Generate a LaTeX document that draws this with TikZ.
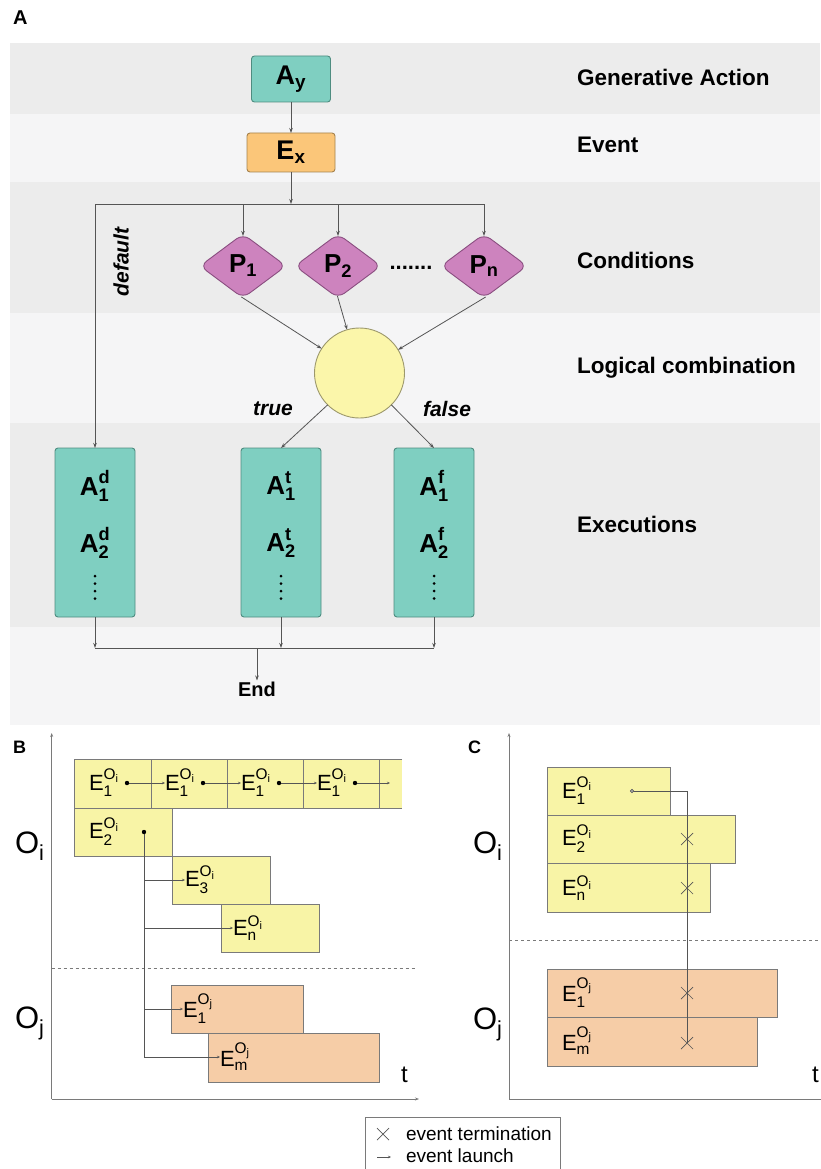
\documentclass[tikz,border=0pt]{standalone}
\usepackage{amsmath}
\usepackage{fontspec}
\setmainfont{Liberation Sans}
\usetikzlibrary{arrows.meta,shapes.geometric,calc}
\definecolor{bandD}{HTML}{ECECEC}
\definecolor{bandL}{HTML}{F5F5F6}
\definecolor{tealF}{HTML}{7FCFC1}
\definecolor{tealD}{HTML}{4E8C80}
\definecolor{oranF}{HTML}{FBC679}
\definecolor{oranD}{HTML}{A5824E}
\definecolor{purpF}{HTML}{CD83BE}
\definecolor{purpD}{HTML}{8A4E80}
\definecolor{circF}{HTML}{FBF6AA}
\definecolor{circD}{HTML}{9C986C}
\definecolor{ylwF}{HTML}{F8F4A6}
\definecolor{peachF}{HTML}{F6CDA7}
\definecolor{boxD}{HTML}{7A7A7A}
\definecolor{lineC}{HTML}{555555}
\newcommand{\fsz}[1]{\fontsize{#1}{#1}\selectfont}
\newcommand{\Eo}[2]{$\text{E}^{\text{O}_{\text{#1}}}_{\text{#2}}$}
\newcommand{\Ax}[2]{$\text{A}^{\text{#1}}_{\text{#2}}$}
\tikzset{
  every node/.style={inner sep=0pt, outer sep=0pt},
  ln/.style={draw=lineC, line width=0.8pt},
  arr/.style={ln, -{Stealth[length=5pt,width=3.5pt]}},
  larr/.style={draw=lineC, line width=0.7pt, -{Stealth[length=3pt,width=2.5pt]}},
  axisarr/.style={draw=boxD, line width=0.9pt, -{Stealth[length=4pt,width=3pt]}},
  dsh/.style={draw=boxD, line width=0.8pt, dash pattern=on 3pt off 3pt},
  tbox/.style={draw=tealD, fill=tealF, line width=0.9pt, rounded corners=3pt, font=\fsz{27}\bfseries},
  obox/.style={draw=oranD, fill=oranF, line width=0.9pt, rounded corners=3pt, font=\fsz{27}\bfseries},
  cond/.style={diamond, draw=purpD, fill=purpF, line width=0.9pt, rounded corners=8pt, minimum width=86, minimum height=64, font=\fsz{26}\bfseries},
  execbox/.style={draw=tealD, fill=tealF, line width=0.9pt, rounded corners=3pt, minimum width=80, minimum height=169},
  rowlab/.style={font=\fsz{22.5}\bfseries, anchor=base west},
  bi/.style={font=\fsz{21}\bfseries\itshape},
  ybox/.style={draw=boxD, fill=ylwF, line width=0.8pt, anchor=north west},
  pbox/.style={draw=boxD, fill=peachF, line width=0.8pt, anchor=north west},
  etxt/.style={font=\fsz{22}, anchor=west},
  olab/.style={font=\fsz{31}, anchor=base west},
  xmark/.style={draw=lineC, line width=0.7pt},
}
\begin{document}
\begin{tikzpicture}[x=1pt, y=-1pt]
\useasboundingbox (0,0) rectangle (820,1169);
\fill[white] (0,0) rectangle (820,1169);
% ---------------- Panel A ----------------
\fill[bandD] (10,43) rectangle (820,114);
\fill[bandL] (10,114) rectangle (820,182);
\fill[bandD] (10,182) rectangle (820,313);
\fill[bandL] (10,313) rectangle (820,423);
\fill[bandD] (10,423) rectangle (820,627);
\fill[bandL] (10,627) rectangle (820,725);
\node[font=\fsz{20}\bfseries, anchor=base west] (labA) at (13,25) {A};

\node[rowlab] (rl1) at (577,86) {Generative Action};
\node[rowlab] (rl2) at (577,153) {Event};
\node[rowlab] (rl3) at (577,268) {Conditions};
\node[rowlab] (rl4) at (577,373) {Logical combination};
\node[rowlab] (rl5) at (577,532) {Executions};

\node[tbox, minimum width=79, minimum height=46] (Ay) at (291,79) {$\text{A}_{\text{y}}$};
\node[obox, minimum width=88, minimum height=39] (Ex) at (291,152.5) {$\text{E}_{\text{x}}$};
\draw[arr] (Ay.south) -- (Ex.north);
\coordinate (jn) at (291,204);
\coordinate (jL) at (95,204);
\coordinate (jR) at (484,204);
\draw[arr] (Ex.south) -- (jn);
\draw[ln] (jL) -- (jR);

\node[cond] (P1) at (243,266) {$\text{P}_{\text{1}}$};
\node[cond] (P2) at (338,266) {$\text{P}_{\text{2}}$};
\node[cond] (Pn) at (484,266) {$\text{P}_{\text{n}}$};
\node[font=\fsz{22}\bfseries, anchor=base] (pdots) at (411,269) {.......};
\draw[arr, shorten >=-2pt] (jL -| P1) -- (P1.north);
\draw[arr, shorten >=-2pt] (jL -| P2) -- (P2.north);
\draw[arr, shorten >=-2pt] (jR) -- (Pn.north);

\node[circle, draw=circD, fill=circF, line width=0.9pt, minimum size=90] (LC) at (359.5,373) {};
\draw[arr, shorten <=-2pt] (P1.south) -- (LC);
\draw[arr, shorten <=-2pt] (P2.south) -- (LC);
\draw[arr, shorten <=-2pt] (Pn.south) -- (LC);

\node[rotate=90, bi] (dflt) at (121,262) {default};
\node[bi] (tru) at (273,409) {true};
\node[bi] (fls) at (447,409) {false};

\node[execbox] (Ad) at (95,532.5) {};
\node[execbox] (At) at (281,532.5) {};
\node[execbox] (Af) at (434,532.5) {};
\draw[arr] (jL) -- (Ad.north);
\draw[arr] (LC.south west) -- (At.north);
\draw[arr] (LC.south east) -- (Af.north);

\foreach \nm/\ssup/\xx in {d/d/95, t/t/281, f/f/434}{
  \node[font=\fsz{26}\bfseries] (A\nm1) at (\xx,486) {\Ax{\ssup}{1}};
  \node[font=\fsz{26}\bfseries] (A\nm2) at (\xx,543) {\Ax{\ssup}{2}};
  \foreach \yy in {576,583.5,591,598.5} \fill[black] (\xx,\yy) circle (1.5);
}

\coordinate (bL) at (95,648);
\coordinate (bR) at (434,648);
\draw[arr] (Ad.south) -- (bL);
\draw[arr] (At.south) -- (At.south |- bL);
\draw[arr] (Af.south) -- (bR);
\draw[ln] (bL) -- (bR);
\node[font=\fsz{20}\bfseries, anchor=base] (End) at (257,696) {End};
\draw[arr, shorten >=1pt] (bL -| End) -- (End.north);

% ---------------- Panel B ----------------
\node[font=\fsz{18}\bfseries, anchor=base west] (labB) at (13,753) {B};
\coordinate (B0) at (51.7,1099);
\draw[axisarr] (B0) -- (51.7,733);
\draw[axisarr] (B0) -- (419,1099);
\draw[dsh] (51.7,968) -- (417,968);

\node[ybox, minimum width=77, minimum height=49] (r1a) at (74,759) {};
\node[ybox, minimum width=76, minimum height=49] (r1b) at (151,759) {};
\node[ybox, minimum width=76, minimum height=49] (r1c) at (227,759) {};
\node[ybox, minimum width=76, minimum height=49] (r1d) at (303,759) {};
\fill[ylwF] (379,759) rectangle (402,808);
\draw[draw=boxD, line width=0.8pt] (402,759) -- (379,759) -- (379,808) -- (402,808);

\node[ybox, minimum width=98, minimum height=48] (r2) at (74,808) {};
\node[ybox, minimum width=98, minimum height=48] (r3) at (172,856) {};
\node[ybox, minimum width=98, minimum height=48] (r4) at (221,904) {};
\node[pbox, minimum width=132, minimum height=48] (r5) at (171,985) {};
\node[pbox, minimum width=171, minimum height=49] (r6) at (208,1033) {};

\node[etxt] (t1a) at (89,783) {\Eo{i}{1}};
\node[etxt] (t1b) at (165,783) {\Eo{i}{1}};
\node[etxt] (t1c) at (241,783) {\Eo{i}{1}};
\node[etxt] (t1d) at (317,783) {\Eo{i}{1}};
\coordinate (d1a) at (127,783);
\coordinate (d1b) at (203,783);
\coordinate (d1c) at (279,783);
\coordinate (d1d) at (355,783);
\coordinate (e1) at (390,783);
\draw[larr] (d1a) -- (t1b.west);
\draw[larr] (d1b) -- (t1c.west);
\draw[larr] (d1c) -- (t1d.west);
\draw[larr] (d1d) -- (e1);
\foreach \d in {d1a,d1b,d1c,d1d} \fill[black] (\d) circle (2.2);

\node[etxt] (t2) at (89,832) {\Eo{i}{2}};
\node[etxt] (t3) at (185,880) {\Eo{i}{3}};
\node[etxt] (t4) at (233,928) {\Eo{i}{n}};
\node[etxt] (t5) at (183,1009) {\Eo{j}{1}};
\node[etxt] (t6) at (220,1057) {\Eo{j}{m}};
\coordinate (d2) at (144,832);
\draw[ln, line width=0.7pt] (d2) -- (d2 |- t6.west);
\fill[black] (d2) circle (2.2);
\draw[larr] (d2 |- t3.west) -- (t3.west);
\draw[larr] (d2 |- t4.west) -- (t4.west);
\draw[larr] (d2 |- t5.west) -- (t5.west);
\draw[larr] (d2 |- t6.west) -- (t6.west);

\node[olab] (BOi) at (15,853) {$\text{O}_{\text{i}}$};
\node[olab] (BOj) at (15,1028) {$\text{O}_{\text{j}}$};
\node[font=\fsz{24}, anchor=base west] (tB) at (401,1082) {t};

% ---------------- Panel C ----------------
\node[font=\fsz{18}\bfseries, anchor=base west] (labC) at (468,753) {C};
\coordinate (C0) at (509,1099);
\draw[axisarr] (C0) -- (509,733);
\draw[axisarr] (C0) -- (826,1099);
\draw[dsh] (509,940) -- (820,940);

\node[ybox, minimum width=123, minimum height=48] (c1) at (547,767) {};
\node[ybox, minimum width=188, minimum height=48] (c2) at (547,815) {};
\node[ybox, minimum width=163, minimum height=49] (c3) at (547,863) {};
\node[pbox, minimum width=230, minimum height=48] (c4) at (547,969) {};
\node[pbox, minimum width=210, minimum height=49] (c5) at (547,1017) {};

\node[etxt] (u1) at (562,791) {\Eo{i}{1}};
\node[etxt] (u2) at (562,839) {\Eo{i}{2}};
\node[etxt] (u3) at (562,888) {\Eo{i}{n}};
\node[etxt] (u4) at (562,993) {\Eo{j}{1}};
\node[etxt] (u5) at (562,1041) {\Eo{j}{m}};

\coordinate (cd) at (632,791);
\coordinate (cc) at (687,791);
\coordinate (x2) at (687,839);
\coordinate (x3) at (687,888);
\coordinate (x4) at (687,993);
\coordinate (x5) at (687,1043);
\draw[ln, line width=0.7pt] (cd) -- (cc) -- (x5);
\draw[draw=lineC, line width=0.6pt, fill=lineC!50] (cd) circle (1.8);
\foreach \c in {x2,x3,x4,x5}
  \draw[xmark] ($(\c)+(-6,-6)$) -- ($(\c)+(6,6)$) ($(\c)+(-6,6)$) -- ($(\c)+(6,-6)$);

\node[olab] (COi) at (473,853) {$\text{O}_{\text{i}}$};
\node[olab] (COj) at (473,1029) {$\text{O}_{\text{j}}$};
\node[font=\fsz{24}, anchor=base west] (tC) at (812,1082) {t};

% ---------------- Legend ----------------
\draw[draw=boxD, line width=0.8pt] (365,1175) -- (365,1117) -- (560,1117) -- (560,1175);
\coordinate (lx) at (383,1134);
\draw[xmark] ($(lx)+(-6,-6)$) -- ($(lx)+(6,6)$) ($(lx)+(-6,6)$) -- ($(lx)+(6,-6)$);
\coordinate (la) at (377,1157);
\coordinate (lb) at (391,1157);
\draw[larr] (la) -- (lb);
\node[font=\fsz{19}, anchor=base west] (lg1) at (406,1140) {event termination};
\node[font=\fsz{19}, anchor=base west] (lg2) at (406,1162) {event launch};
\end{tikzpicture}
\end{document}
